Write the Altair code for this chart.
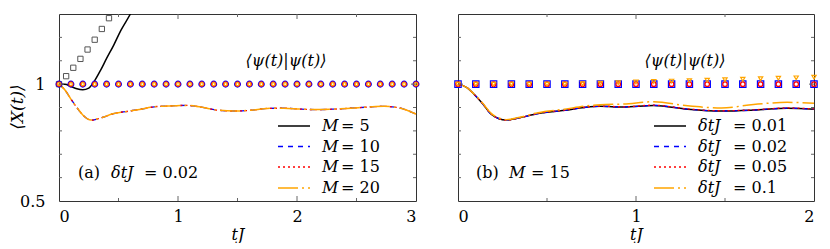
import altair as alt
import pandas as pd

# ---------------- data ----------------
# panel (a): dtJ = 0.02, different M
t_a_M5 = [0, 0.05, 0.1, 0.15, 0.2, 0.25, 0.3, 0.35, 0.4, 0.46, 0.52, 0.6, 0.65]
x_a_M5 = [1.0, 1.0, 0.99, 0.98, 0.976, 0.983, 1.015, 1.06, 1.11, 1.167, 1.23, 1.3, 1.35]

t_a = [0, 0.05, 0.1, 0.15, 0.2, 0.27, 0.35, 0.46, 0.58, 0.69, 0.8, 0.91, 1.08, 1.19,
       1.33, 1.47, 1.61, 1.75, 1.89, 2.03, 2.17, 2.31, 2.45, 2.6, 2.73, 2.87, 3.0]
x_a_M10 = [1.0, 0.975, 0.936, 0.9, 0.868, 0.846, 0.855, 0.874, 0.884, 0.893, 0.903, 0.906, 0.909, 0.902,
           0.889, 0.885, 0.888, 0.896, 0.897, 0.893, 0.891, 0.893, 0.897, 0.902, 0.905, 0.897, 0.872]
x_a_M15 = [1.0, 0.975, 0.936, 0.9, 0.868, 0.846, 0.855, 0.874, 0.884, 0.893, 0.903, 0.906, 0.909, 0.902,
           0.889, 0.885, 0.888, 0.896, 0.897, 0.893, 0.891, 0.893, 0.897, 0.902, 0.905, 0.897, 0.872]
x_a_M20 = [1.0, 0.975, 0.936, 0.9, 0.868, 0.846, 0.855, 0.874, 0.884, 0.893, 0.903, 0.906, 0.909, 0.902,
           0.889, 0.885, 0.888, 0.896, 0.897, 0.893, 0.891, 0.893, 0.897, 0.902, 0.905, 0.897, 0.872]

# norms, panel (a)
tn_a_M5 = [0, 0.06, 0.12, 0.18, 0.24, 0.3, 0.36, 0.42]
n_a_M5 = [1.0, 1.034, 1.07, 1.108, 1.148, 1.19, 1.236, 1.282]
tn_a = [0, 0.1, 0.2, 0.3, 0.4, 0.5, 0.6, 0.7, 0.8, 0.9, 1.0, 1.1, 1.2, 1.3, 1.4, 1.5,
        1.6, 1.7, 1.8, 1.9, 2.0, 2.1, 2.2, 2.3, 2.4, 2.5, 2.6, 2.7, 2.8, 2.9, 3.0]
n_a = [1.0, 1.0, 1.0, 1.0, 1.0, 1.0, 1.0, 1.0, 1.0, 1.0, 1.0, 1.0, 1.0, 1.0, 1.0, 1.0,
       1.0, 1.0, 1.0, 1.0, 1.0, 1.0, 1.0, 1.0, 1.0, 1.0, 1.0, 1.0, 1.0, 1.0, 1.0]

# panel (b): M = 15, different dtJ
t_b = [0, 0.05, 0.09, 0.14, 0.185, 0.23, 0.27, 0.34, 0.45, 0.6, 0.71, 0.8, 0.93, 1.1,
       1.29, 1.48, 1.66, 1.85, 2.0]
x_b_001 = [1.0, 0.985, 0.957, 0.915, 0.872, 0.852, 0.846, 0.855, 0.874, 0.888, 0.9, 0.905, 0.902, 0.909,
           0.893, 0.885, 0.889, 0.897, 0.893]
x_b_002 = [1.0, 0.985, 0.957, 0.915, 0.872, 0.852, 0.846, 0.855, 0.874, 0.888, 0.9, 0.905, 0.902, 0.909,
           0.893, 0.885, 0.889, 0.897, 0.893]
x_b_005 = [1.0, 0.985, 0.957, 0.915, 0.873, 0.852, 0.846, 0.855, 0.875, 0.889, 0.901, 0.906, 0.903, 0.91,
           0.894, 0.886, 0.89, 0.898, 0.894]
x_b_01 = [1.0, 0.985, 0.958, 0.917, 0.876, 0.855, 0.848, 0.857, 0.878, 0.893, 0.906, 0.912, 0.915, 0.925,
          0.907, 0.898, 0.913, 0.922, 0.918]

tn_b = [0, 0.1, 0.2, 0.3, 0.4, 0.5, 0.6, 0.7, 0.8, 0.9, 1.0, 1.1, 1.2, 1.3, 1.4, 1.5,
        1.6, 1.7, 1.8, 1.9, 2.0]
n_b = [1.0, 1.0, 1.0, 1.0, 1.0, 1.0, 1.0, 1.0, 1.0, 1.0, 1.0, 1.0, 1.0, 1.0, 1.0, 1.0,
       1.0, 1.0, 1.0, 1.0, 1.0]
n_b_01 = [1.0, 1.0, 1.0, 1.0, 1.0, 1.0, 1.0, 1.002, 1.004, 1.006, 1.009, 1.011, 1.013, 1.015,
          1.017, 1.019, 1.021, 1.023, 1.025, 1.027, 1.03]

# ticks and labels
xticks_a_major = [1, 2]
xticks_a_minor = [0.5, 1.5, 2.5]
xticks_b_major = [1]
xticks_b_minor = [0.5, 1.5]
yticks_major = [1.0]
yticks_minor = [0.6, 0.7, 0.8, 0.9, 1.1, 1.2]
xlabels_a = [0, 1, 2, 3]
xlabels_b = [0, 1, 2]
ylabels = [0.5, 1]

legend_a_sym = ["M", "M", "M", "M"]
legend_a_val = ["= 5", "= 10", "= 15", "= 20"]
legend_b_sym = ["δtJ", "δtJ", "δtJ", "δtJ"]
legend_b_val = ["= 0.01", "= 0.02", "= 0.05", "= 0.1"]
norm_label = "⟨ψ(t)|ψ(t)⟩"
ytitle = "⟨X(t)⟩"
xtitle = "tJ"

# ---------------- styles ----------------
W_A, W_B, H = 357, 356, 187
FONT = "DejaVu Serif"
FS = 16
BLUE, RED, ORANGE, BLACK, GRAY = "#0000ff", "#ff0000", "#ffa500", "#000000", "#555555"
TICK = "#666666"
styles = [
    dict(color=BLACK, strokeWidth=1.5),
    dict(color=BLUE, strokeWidth=1.3, strokeDash=[5, 5]),
    dict(color=RED, strokeWidth=1.3, strokeDash=[2, 3]),
    dict(color=ORANGE, strokeWidth=1.5, strokeDash=[20, 4, 2, 4]),
]
ys = alt.Scale(domain=[0.5, 1.3], nice=False, zero=False)
yaxis = alt.Axis(values=ylabels, format="~g", ticks=False, domain=False, grid=False,
                 labelFont=FONT, labelFontSize=FS, labelColor="black", labelPadding=14,
                 title=None)


def make_x(xmax, labels):
    scale = alt.Scale(domain=[0, xmax], nice=False, zero=False)
    axis = alt.Axis(values=labels, format="~g", ticks=False, domain=False, grid=False,
                    labelFont=FONT, labelFontSize=FS, labelColor="black", labelPadding=7,
                    title=xtitle, titleFont=FONT, titleFontSize=FS, titleFontStyle="italic",
                    titleFontWeight="normal", titleColor="black", titlePadding=2)
    return scale, axis


def panel(xmax, xlabels, lines, markers, xmaj, xmin, legend_sym, legend_val, leg_x, val_dx,
          label_parts, show_y):
    xs, xaxis = make_x(xmax, xlabels)
    X = lambda: alt.X("t:Q", scale=xs, axis=xaxis)
    Y = lambda: alt.Y("v:Q", scale=ys, axis=(yaxis if show_y else None))
    layers = []
    # curves
    for t, v, st, clip in lines:
        df = pd.DataFrame({"t": t, "v": v})
        layers.append(alt.Chart(df).mark_line(interpolate="monotone", clip=clip, **st)
                      .encode(x=X(), y=Y()))
    # markers
    for t, v, shape, color, size, sw in markers:
        df = pd.DataFrame({"t": t, "v": v})
        layers.append(alt.Chart(df).mark_point(shape=shape, filled=False, stroke=color,
                                               size=size, strokeWidth=sw, opacity=1)
                      .encode(x=X(), y=Y()))
    # inward ticks
    for vals, ln in [(xmaj, 5), (xmin, 3)]:
        df = pd.DataFrame({"t": vals})
        layers.append(alt.Chart(df).mark_rule(color=TICK, strokeWidth=1)
                      .encode(x=X(), y=alt.value(H), y2=alt.value(H - ln)))
        layers.append(alt.Chart(df).mark_rule(color=TICK, strokeWidth=1)
                      .encode(x=X(), y=alt.value(0), y2=alt.value(ln)))
    W = W_A if xmax == 3 else W_B
    for vals, ln in [(yticks_major, 5), (yticks_minor, 3)]:
        df = pd.DataFrame({"v": vals})
        layers.append(alt.Chart(df).mark_rule(color=TICK, strokeWidth=1)
                      .encode(y=Y(), x=alt.value(0), x2=alt.value(ln)))
        layers.append(alt.Chart(df).mark_rule(color=TICK, strokeWidth=1)
                      .encode(y=Y(), x=alt.value(W), x2=alt.value(W - ln)))
    # legend
    rows = [112, 132.5, 153, 174]
    one = pd.DataFrame({"k": [0]})
    for i, st in enumerate(styles):
        layers.append(alt.Chart(one).mark_rule(**st)
                      .encode(x=alt.value(leg_x), x2=alt.value(leg_x + 32), y=alt.value(rows[i])))
        d1 = pd.DataFrame({"s": [legend_sym[i]]})
        layers.append(alt.Chart(d1).mark_text(font=FONT, fontSize=FS, fontStyle="italic",
                                              align="left", baseline="middle", color="black")
                      .encode(x=alt.value(leg_x + 44), y=alt.value(rows[i]), text="s:N"))
        d2 = pd.DataFrame({"s": [legend_val[i]]})
        layers.append(alt.Chart(d2).mark_text(font=FONT, fontSize=FS, align="left",
                                              baseline="middle", color="black")
                      .encode(x=alt.value(leg_x + 44 + val_dx), y=alt.value(rows[i]), text="s:N"))
    # norm label
    dn = pd.DataFrame({"s": [norm_label]})
    layers.append(alt.Chart(dn).mark_text(font=FONT, fontSize=FS, fontStyle="italic",
                                          align="center", baseline="middle", color="black")
                  .encode(x=alt.value(227), y=alt.value(47), text="s:N"))
    # panel label pieces
    for txt, px, style in label_parts:
        dl = pd.DataFrame({"s": [txt]})
        layers.append(alt.Chart(dl).mark_text(font=FONT, fontSize=FS, fontStyle=style,
                                              align="left", baseline="middle", color="black")
                      .encode(x=alt.value(px), y=alt.value(159), text="s:N"))
    if show_y:
        dy = pd.DataFrame({"s": [ytitle]})
        layers.append(alt.Chart(dy).mark_text(font=FONT, fontSize=FS + 1, fontStyle="italic",
                                              angle=270, align="center", baseline="middle",
                                              color="black")
                      .encode(x=alt.value(-41), y=alt.value(93), text="s:N"))
    return alt.layer(*layers).properties(width=W, height=H)


lines_a = [
    (t_a_M5, x_a_M5, styles[0], True),
    (t_a, x_a_M10, styles[1], False),
    (t_a, x_a_M15, styles[2], False),
    (t_a, x_a_M20, styles[3], False),
]
markers_a = [
    (tn_a_M5, n_a_M5, "square", GRAY, 28, 1),
    (tn_a, n_a, "circle", BLUE, 34, 1.2),
    (tn_a, n_a, "circle", RED, 22, 1),
    (tn_a, n_a, "circle", ORANGE, 8, 1.2),
]
lines_b = [
    (t_b, x_b_001, styles[0], False),
    (t_b, x_b_002, styles[1], False),
    (t_b, x_b_005, styles[2], False),
    (t_b, x_b_01, styles[3], False),
]
markers_b = [
    (tn_b, n_b, "square", BLUE, 40, 1.2),
    (tn_b, n_b, "circle", RED, 20, 1.2),
    (tn_b, n_b_01, "triangle-down", ORANGE, 18, 1.2),
]

left = panel(3, xlabels_a, lines_a, markers_a, xticks_a_major, xticks_a_minor,
             legend_a_sym, legend_a_val, 219, 19,
             [("(a)", 19, "normal"), ("δtJ", 52, "italic"), ("= 0.02", 85, "normal")], True)
right = panel(2, xlabels_b, lines_b, markers_b, xticks_b_major, xticks_b_minor,
              legend_b_sym, legend_b_val, 196, 35,
              [("(b)", 18, "normal"), ("M", 51, "italic"), ("= 15", 73, "normal")], False)

chart = alt.hconcat(left, right, spacing=42, bounds="flush").properties(
    padding={"left": 0, "top": 5, "right": 0, "bottom": 0}
).configure_view(stroke="#333333", strokeWidth=1).configure_concat(spacing=42)

chart.save("out.html", embed_options={"renderer": "svg", "actions": False})
